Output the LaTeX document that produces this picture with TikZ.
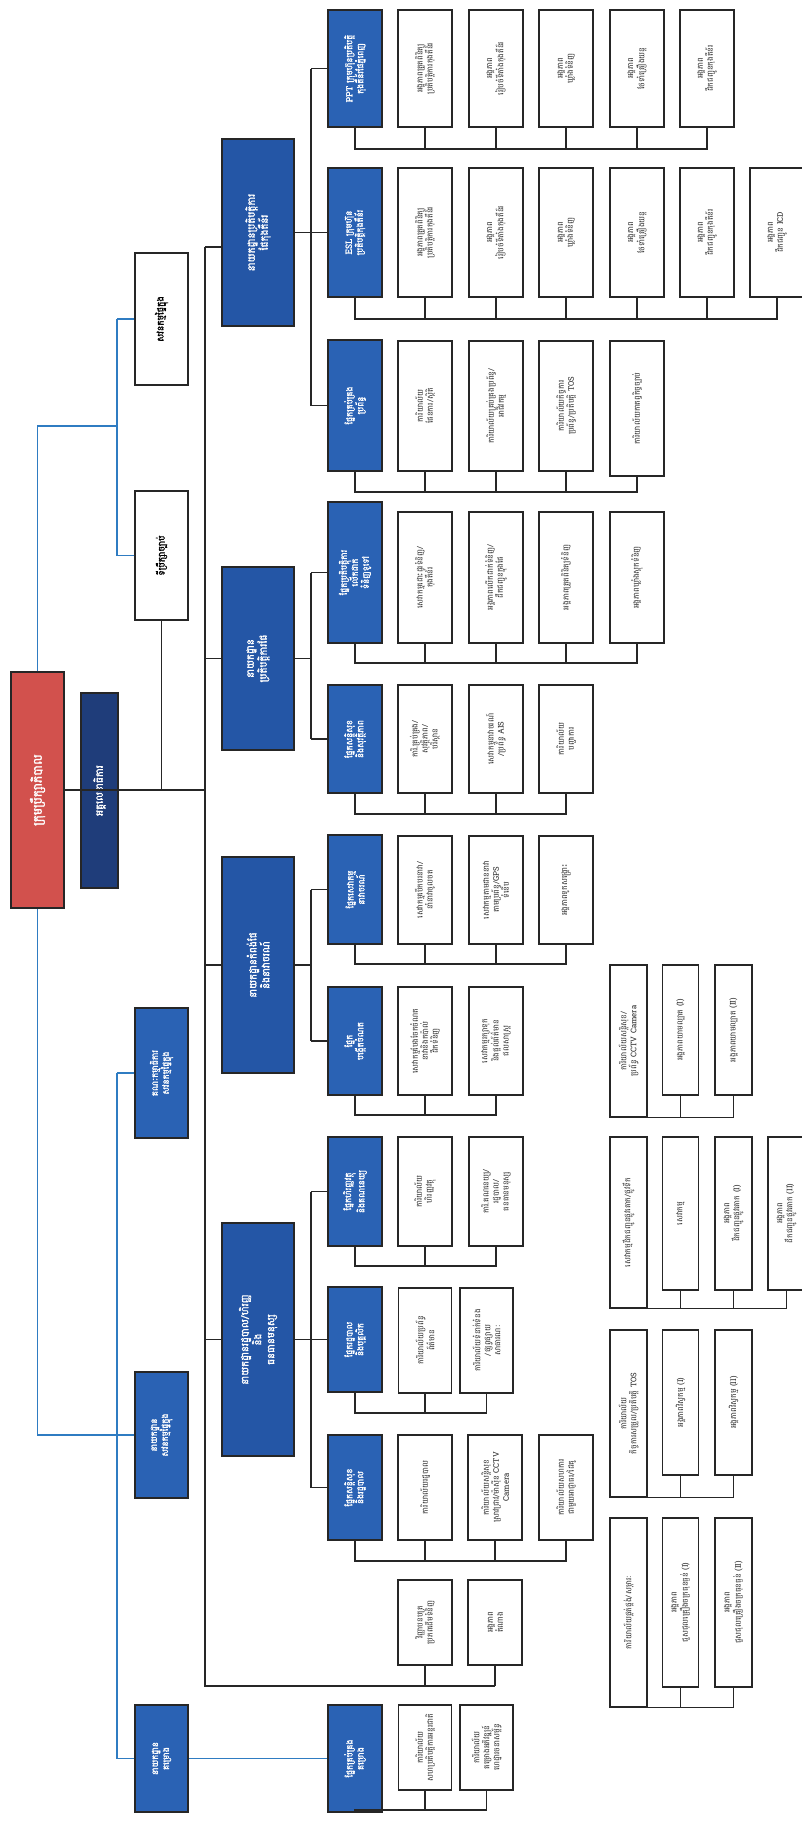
\documentclass[tikz,border=0pt]{standalone}
\usepackage{fontspec}
\usepackage{xcolor}
\usepackage{tikz}
\usetikzlibrary{positioning,calc}
\newfontfamily\khmer[Script=Khmer,AutoFakeBold=2]{Battambang}
\definecolor{rootred}{HTML}{D2514D}
\definecolor{navyblue}{HTML}{1F3D7A}
\definecolor{deptblue}{HTML}{2456A6}
\definecolor{secblue}{HTML}{2A62B4}
\definecolor{linkblue}{HTML}{2F7CC2}
\tikzset{
    len/.style 2 args={minimum width=#1pt, minimum height=#2pt},
    wbox/.style={draw=black!85, line width=1.5pt, fill=white, rotate=90, align=center, inner sep=1pt, text=black!85, font=\khmer\fontsize{7.8}{10}\selectfont},
    bbox/.style={draw=black!85, line width=1.5pt, fill=secblue, rotate=90, align=center, inner sep=1pt, text=white, font=\khmer\bfseries\fontsize{8.5}{11}\selectfont},
    dbox/.style={bbox, fill=deptblue, font=\khmer\bfseries\fontsize{10}{13}\selectfont},
    link/.style={draw=black!85, line width=1.4pt},
    blink/.style={draw=linkblue, line width=1.2pt}
}

\begin{document}
\begin{tikzpicture}[x=1pt, y=-1pt]
\useasboundingbox[fill=white] (0,0) rectangle (801,1839);

% top of the chart
\node[bbox, len={236}{53}, fill=rootred, font=\khmer\bfseries\fontsize{12}{14}\selectfont] (root) at (37.5,790) {ក្រុមប្រឹក្សាភិបាល};
\node[bbox, len={195}{37}, fill=navyblue, font=\khmer\bfseries\fontsize{10}{12}\selectfont] (aide) at (99.5,790.5) {អគ្គលេខាធិការ};
\node[wbox, len={132}{53}, text=black, font=\khmer\bfseries\fontsize{9}{11}\selectfont] (advB) at (161.5,319) {សវនកម្មផ្ទៃក្នុង};
\node[wbox, len={129}{53}, text=black, font=\khmer\bfseries\fontsize{9}{11}\selectfont] (advA) at (161.5,555.5) {ទីប្រឹក្សាច្បាប់};
\node[bbox, len={130}{53}] (grpA) at (161.5,1073) {គណៈកម្មាធិការ\\សវនកម្មផ្ទៃក្នុង};
\node[bbox, len={126}{53}] (grpB) at (161.5,1435) {នាយកដ្ឋាន\\សវនកម្មផ្ទៃក្នុង};
\node[bbox, len={107}{53}] (grpC) at (161.5,1758.5) {នាយកដ្ឋាន\\គម្រោង};

% departments
\node[dbox, len={187}{72}] (deptA) at (258,232.5) {នាយកដ្ឋានប្រតិបត្តិការ\\ផែកុងតឺន័រ};
\node[dbox, len={183}{72}] (deptB) at (258,658.5) {នាយកដ្ឋាន\\ប្រតិបត្តិការផែ};
\node[dbox, len={216}{72}] (deptC) at (258,965) {នាយកដ្ឋានកំពង់ផែ\\និងនាវាចរណ៍};
\node[dbox, len={233}{72}] (deptD) at (258,1339.5) {នាយកដ្ឋានរដ្ឋបាល/ហិរញ្ញ\\និង\\ធនធានមនុស្ស};

% sections
\node[bbox, len={117}{54}] (secA) at (355,68.5) {PPT ក្រុមហ៊ុនប្រតិបត្តិ\\កុងតឺន័រផែភ្នំពេញ};
\node[bbox, len={129}{54}] (secB) at (355,232.5) {ESL ក្រុមហ៊ុន\\ប្រតិបត្តិកុងតឺន័រ};
\node[bbox, len={131}{54}] (secC) at (355,405.5) {ផ្នែកគ្រប់គ្រង\\ប្រព័ន្ធ};
\node[bbox, len={141}{54}] (secD) at (355,572.5) {ផ្នែកប្រតិបត្តិការ\\លើកដាក់\\ទំនិញទូទៅ};
\node[bbox, len={108}{54}] (secE) at (355,739) {ផ្នែកសន្តិសុខ\\និងសុវត្ថិភាព};
\node[bbox, len={109}{54}] (secF) at (355,889.5) {ផ្នែកសេវាកម្ម\\នាវាចរណ៍};
\node[bbox, len={108}{54}] (secG) at (355,1041) {ផ្នែក\\បង្កើតចំណត};
\node[bbox, len={109}{54}] (secH) at (355,1191.5) {ផ្នែកហិរញ្ញវត្ថុ\\និងគណនេយ្យ};
\node[bbox, len={105}{54}] (secI) at (355,1339.5) {ផ្នែករដ្ឋបាល\\និងបុគ្គលិក};
\node[bbox, len={105}{54}] (secJ) at (355,1487.5) {ផ្នែកសន្តិសុខ\\និងរដ្ឋបាល};
\node[bbox, len={107}{54}] (secK) at (355,1758.5) {ផ្នែកគ្រប់គ្រង\\គម្រោង};

% units of PPT
\node[wbox, len={117}{54}] (a1) at (425,68.5) {អង្គភាពត្រួតពិនិត្យ\\ប្រតិបត្តិការកុងតឺន័រ};
\node[wbox, len={117}{54}] (a2) at (496,68.5) {អង្គភាព\\រៀបចំទីតាំងកុងតឺន័រ};
\node[wbox, len={117}{54}] (a3) at (566,68.5) {អង្គភាព\\ឃ្លាំងទំនិញ};
\node[wbox, len={117}{54}] (a4) at (637,68.5) {អង្គភាព\\ថែទាំគ្រឿងយន្ត};
\node[wbox, len={117}{54}] (a5) at (707,68.5) {អង្គភាព\\ដឹកជញ្ជូនកុងតឺន័រ};
% units of ESL
\node[wbox, len={129}{54}] (b1) at (425,232.5) {អង្គភាពត្រួតពិនិត្យ\\ប្រតិបត្តិការកុងតឺន័រ};
\node[wbox, len={129}{54}] (b2) at (496,232.5) {អង្គភាព\\រៀបចំទីតាំងកុងតឺន័រ};
\node[wbox, len={129}{54}] (b3) at (566,232.5) {អង្គភាព\\ឃ្លាំងទំនិញ};
\node[wbox, len={129}{54}] (b4) at (637,232.5) {អង្គភាព\\ថែទាំគ្រឿងយន្ត};
\node[wbox, len={129}{54}] (b5) at (707,232.5) {អង្គភាព\\ដឹកជញ្ជូនកុងតឺន័រ};
\node[wbox, len={129}{54}] (b6) at (777,232.5) {អង្គភាព\\ដឹកជញ្ជូន ICD};
% offices of the system section
\node[wbox, len={130}{54}] (c1) at (425,406) {ការិយាល័យ\\ផែនការ/ស្ថិតិ};
\node[wbox, len={130}{54}] (c2) at (496,406) {ការិយាល័យគ្រប់គ្រងប្រព័ន្ធ/\\អាជីវកម្ម};
\node[wbox, len={130}{54}] (c3) at (566,406) {ការិយាល័យកិច្ចការ\\ប្រព័ន្ធ/ប្រតិបត្តិ TOS};
\node[wbox, len={135}{54}] (c4) at (637,408.5) {ការិយាល័យកាតព្វកិច្ចច្បាប់};
% cargo handling
\node[wbox, len={131}{54}] (d1) at (425,577.5) {សេវាកម្មដោះដូរទំនិញ/\\កុងតឺន័រ};
\node[wbox, len={131}{54}] (d2) at (496,577.5) {អង្គភាពលើកដាក់ទំនិញ/\\ដឹកជញ្ជូនក្នុងផែ};
\node[wbox, len={131}{54}] (d3) at (566,577.5) {អង្គភាពត្រួតពិនិត្យទំនិញ};
\node[wbox, len={131}{54}] (d4) at (637,577.5) {អង្គភាពឃ្លាំងស្តុកទំនិញ};
% safety
\node[wbox, len={108}{54}] (e1) at (425,739) {ការិ.គ្រប់គ្រង/\\សុវត្ថិភាព/\\បរិស្ថាន};
\node[wbox, len={108}{54}] (e2) at (496,739) {សេវាកម្មនាវាចរណ៍\\/ប្រព័ន្ធ AIS};
\node[wbox, len={108}{54}] (e3) at (566,739) {ការិយាល័យ\\បញ្ជាការ};
% navigation
\node[wbox, len={108}{54}] (f1) at (425,890) {សេវាកម្មបើកបរនាវា/\\នាំនាវាចូលចត};
\node[wbox, len={108}{54}] (f2) at (496,890) {សេវាកម្មតាមដាននាវា\\តាមប្រព័ន្ធ/GPS\\ទំនើប};
\node[wbox, len={108}{54}] (f3) at (566,890) {អង្គភាពទូកសង្គ្រោះ};
% berths
\node[wbox, len={108}{54}] (g1) at (425,1041) {សេវាកម្មបែងចែកចំណត\\នាវានិងកប៉ាល់\\ដឹកទំនិញ};
\node[wbox, len={108}{54}] (g2) at (496,1041) {សេវាកម្មរក្សាទុក\\និងផ្តល់ព័ត៌មាន\\ជលសាស្ត្រ};
% finance
\node[wbox, len={109}{54}] (h1) at (425,1191.5) {ការិយាល័យ\\ហិរញ្ញវត្ថុ};
\node[wbox, len={109}{54}] (h2) at (496,1191.5) {ការិ.គណនេយ្យ/\\រដ្ឋបាល/\\ធនធានមនុស្ស};
% administration
\node[wbox, len={105}{53}] (i1) at (425,1340.5) {ការិយាល័យប្រព័ន្ធ\\ព័ត៌មាន};
\node[wbox, len={105}{53}] (i2) at (486.5,1340.5) {ការិយាល័យទំនាក់ទំនង\\/ផ្សព្វផ្សាយ\\សាធារណៈ};
% security
\node[wbox, len={105}{54}] (j1) at (425,1487.5) {ការិយាល័យរដ្ឋបាល};
\node[wbox, len={105}{54}] (j2) at (495,1487.5) {ការិយាល័យសន្តិសុខ\\ស្រាវជ្រាវ/ម៉ាស៊ីន CCTV\\Camera};
\node[wbox, len={105}{54}] (j3) at (566,1487.5) {ការិយាល័យសហការ\\ជាមួយអាជ្ញាធរ/ដៃគូ};
% under the main bus
\node[wbox, len={85}{54}] (k1) at (425,1622.5) {វិញ្ញាបនបត្រ\\ប្រភពដើមទំនិញ};
\node[wbox, len={85}{54}] (k2) at (495,1622.5) {អង្គភាព\\តំណាង};
% projects
\node[wbox, len={85}{53}] (m1) at (425,1747.5) {ការិយាល័យ\\សហប្រតិបត្តិការអន្តរជាតិ};
\node[wbox, len={85}{53}] (m2) at (486.5,1747.5) {ការិយាល័យ\\គម្រោងអភិវឌ្ឍន៍\\ហេដ្ឋារចនាសម្ព័ន្ធ};

% loose groups
\node[wbox, len={152}{37}] (p0) at (628.5,1041) {ការិយាល័យសន្តិសុខ/\\ប្រព័ន្ធ CCTV Camera};
\node[wbox, len={130}{36}] (p1) at (680.5,1030) {អង្គភាពយាមល្បាត (I)};
\node[wbox, len={130}{37}] (p2) at (733.5,1030) {អង្គភាពយាមល្បាត (II)};
\node[wbox, len={171}{37}] (q0) at (628.5,1222.5) {សេវាកម្មដឹកជញ្ជូនផ្លូវគោក/ផ្លូវទឹក};
\node[wbox, len={153}{36}] (q1) at (680.5,1213.5) {សេវាកម្ម};
\node[wbox, len={153}{37}] (q2) at (733.5,1213.5) {អង្គភាព\\ដឹកជញ្ជូនផ្លូវគោក (I)};
\node[wbox, len={153}{37}] (q3) at (786.5,1213.5) {អង្គភាព\\ដឹកជញ្ជូនផ្លូវគោក (II)};
\node[wbox, len={167}{37}] (r0) at (628.5,1413.5) {ការិយាល័យ\\កិច្ចការសម្រួល/ប្រតិបត្តិ TOS};
\node[wbox, len={145}{36}] (r1) at (680.5,1402.5) {អង្គភាពវិស្វកម្ម (I)};
\node[wbox, len={145}{37}] (r2) at (733.5,1402.5) {អង្គភាពវិស្វកម្ម (II)};
\node[wbox, len={189}{37}] (s0) at (628.5,1612.5) {ការិយាល័យផ្គត់ផ្គង់/សម្ភារៈ};
\node[wbox, len={169}{36}] (s1) at (680.5,1602.5) {អង្គភាព\\ជួសជុលគ្រឿងចក្រធុនធ្ងន់ (I)};
\node[wbox, len={169}{37}] (s2) at (733.5,1602.5) {អង្គភាព\\ជួសជុលគ្រឿងចក្រធុនធ្ងន់ (II)};

% bus points
\coordinate (advJoin) at (117,426);
\coordinate (grpJoin) at (117,0);
\coordinate (busN) at (205,247);
\coordinate (busS) at (205,1686);
\coordinate (colE) at (311,0);
\coordinate (barA) at (707,149);
\coordinate (barB) at (777,319);
\coordinate (barC) at (637,492);
\coordinate (barD) at (637,663);
\coordinate (barE) at (566,814);
\coordinate (barF) at (566,964);
\coordinate (barG) at (496,1115);
\coordinate (barH) at (496,1266);
\coordinate (barI) at (486.5,1413);
\coordinate (barJ) at (566,1561);
\coordinate (barK) at (495,1686);
\coordinate (barM) at (486.5,1810);

% blue lines
\draw[blink] (root.east) |- (advJoin);
\draw[blink] (advB.north -| advJoin) -- (advA.north -| advJoin);
\draw[blink] (advB.north) -- (advB.north -| advJoin);
\draw[blink] (advA.north) -- (advA.north -| advJoin);
\draw[blink] (root.west) |- (grpB.north);
\draw[blink] (grpA.north -| grpJoin) -- (grpC.north -| grpJoin);
\draw[blink] (grpA.north) -- (grpA.north -| grpJoin);
\draw[blink] (grpC.north) -- (grpC.north -| grpJoin);
\draw[blink] (grpC.south) -- (secK.north);

% main bus
\draw[link] (root.south) -- (root.south -| busN);
\draw[link] (advA.west) -- (advA.west |- root.south);
\draw[link] (busN) -- (busS) -- (barK);
\draw[link] (busN) -- (busN -| deptA.north);
\foreach \d in {deptB,deptC,deptD}
  \draw[link] (\d.north) -- (\d.north -| busN);

% department to section buses
\foreach \d in {deptA,deptB,deptC,deptD}
  \draw[link] (\d.south) -- (\d.south -| colE);
\draw[link] (secA.north -| colE) -- (secC.north -| colE);
\draw[link] (secD.north -| colE) -- (secE.north -| colE);
\draw[link] (secF.north -| colE) -- (secG.north -| colE);
\draw[link] (secH.north -| colE) -- (secJ.north -| colE);
\foreach \s in {secA,secB,secC,secD,secE,secF,secG,secH,secI,secJ}
  \draw[link] (\s.north) -- (\s.north -| colE);

% section to unit bars
\draw[link] (secA.west) |- (barA) -- (a5.west);
\foreach \n in {a1,a2,a3,a4} \draw[link] (\n.west) -- (\n.west |- barA);
\draw[link] (secB.west) |- (barB) -- (b6.west);
\foreach \n in {b1,b2,b3,b4,b5} \draw[link] (\n.west) -- (\n.west |- barB);
\draw[link] (secC.west) |- (barC) -- (c4.west);
\foreach \n in {c1,c2,c3} \draw[link] (\n.west) -- (\n.west |- barC);
\draw[link] (secD.west) |- (barD) -- (d4.west);
\foreach \n in {d1,d2,d3} \draw[link] (\n.west) -- (\n.west |- barD);
\draw[link] (secE.west) |- (barE) -- (e3.west);
\foreach \n in {e1,e2} \draw[link] (\n.west) -- (\n.west |- barE);
\draw[link] (secF.west) |- (barF) -- (f3.west);
\foreach \n in {f1,f2} \draw[link] (\n.west) -- (\n.west |- barF);
\draw[link] (secG.west) |- (barG) -- (g2.west);
\draw[link] (g1.west) -- (g1.west |- barG);
\draw[link] (secH.west) |- (barH) -- (h2.west);
\draw[link] (h1.west) -- (h1.west |- barH);
\draw[link] (secI.west) |- (barI) -- (i2.west);
\draw[link] (i1.west) -- (i1.west |- barI);
\draw[link] (secJ.west) |- (barJ) -- (j3.west);
\foreach \n in {j1,j2} \draw[link] (\n.west) -- (\n.west |- barJ);
\draw[link] (barK) -- (k2.west);
\draw[link] (k1.west) -- (k1.west |- barK);
\draw[link] (secK.west) |- (barM) -- (m2.west);
\draw[link] (m1.west) -- (m1.west |- barM);

% loose groups
\draw[link] (p0.west) -| (p2.west);
\draw[link] (p1.west) -- (p1.west |- p0.west);
\draw[link] (q0.west) -| (q3.west);
\foreach \n in {q1,q2} \draw[link] (\n.west) -- (\n.west |- q0.west);
\draw[link] (r0.west) -| (r2.west);
\draw[link] (r1.west) -- (r1.west |- r0.west);
\draw[link] (s0.west) -| (s2.west);
\draw[link] (s1.west) -- (s1.west |- s0.west);
\end{tikzpicture}
\end{document}
